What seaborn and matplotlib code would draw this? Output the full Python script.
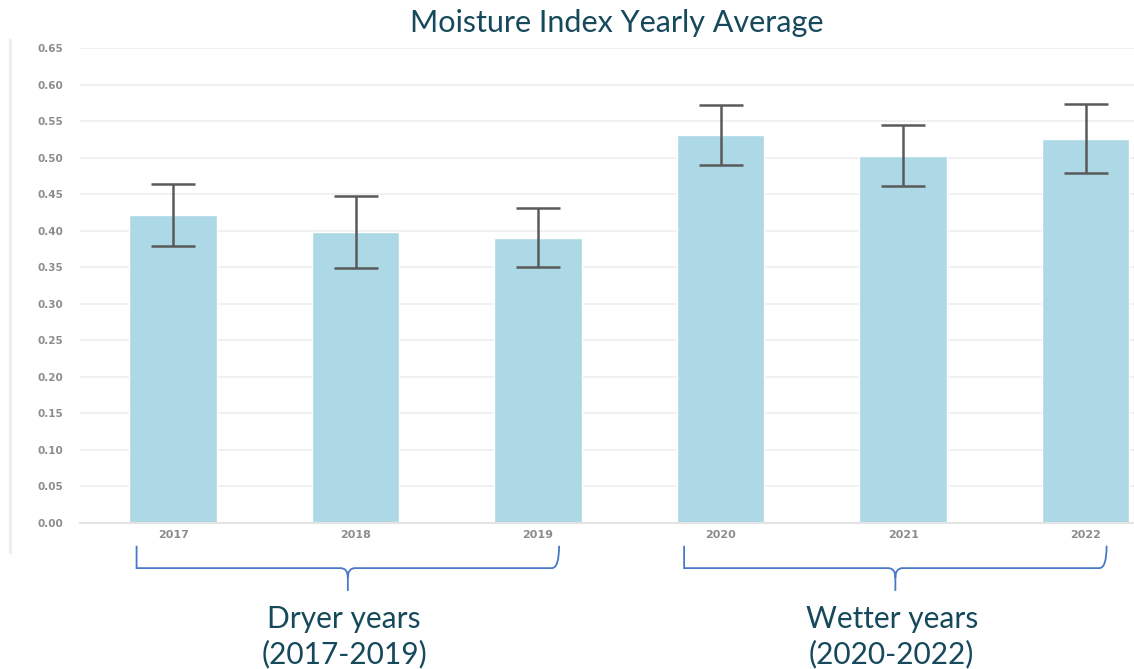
import matplotlib.pyplot as plt
import seaborn as sns
import pandas as pd
from matplotlib.path import Path
from matplotlib.patches import PathPatch
from matplotlib.lines import Line2D

# Yearly averages of the moisture index
years = ["2017", "2018", "2019", "2020", "2021", "2022"]
mean_values = [0.421, 0.398, 0.390, 0.531, 0.502, 0.525]
err_low = [0.379, 0.349, 0.350, 0.490, 0.461, 0.479]
err_high = [0.464, 0.447, 0.431, 0.572, 0.545, 0.573]

groups = ["Dryer years\n(2017-2019)", "Wetter years\n(2020-2022)"]
group_span = [(0, 2), (3, 5)]

df = pd.DataFrame({"year": years, "value": mean_values})

sns.set_style("white")
plt.rcParams["font.family"] = ["Lato", "DejaVu Sans"]

fig = plt.figure(figsize=(11.34, 6.69), dpi=100)
ax = fig.add_axes([80 / 1134, 1 - 523 / 669, 1 - 80 / 1134, 475 / 669])

sns.barplot(data=df, x="year", y="value", color="#add8e6", width=0.48,
            errorbar=None, saturation=1, ax=ax, zorder=2)

# asymmetric error bars
lower = [m - lo for m, lo in zip(mean_values, err_low)]
upper = [hi - m for m, hi in zip(mean_values, err_high)]
ax.errorbar(range(len(years)), mean_values, yerr=[lower, upper], fmt="none",
            ecolor="#5a5a5a", elinewidth=1.8, capsize=16, capthick=1.8, zorder=3)

ax.set_ylim(0, 0.65)
ax.set_xlim(-0.51, 5.265)
ax.set_yticks([i * 0.05 for i in range(14)])
ax.set_yticklabels([f"{i * 0.05:.2f}" for i in range(14)])
ax.set_xlabel("")
ax.set_ylabel("")
ax.grid(axis="y", color="#efefef", linewidth=1.2, zorder=0)
ax.set_axisbelow(True)
for s in ["top", "right", "left"]:
    ax.spines[s].set_visible(False)
ax.spines["bottom"].set_color("#e3e3e3")
ax.spines["bottom"].set_linewidth(1.5)
ax.tick_params(axis="y", length=0, pad=12, labelsize=7.5, labelcolor="#8c8c8c")
ax.tick_params(axis="x", length=0, pad=5, labelsize=8, labelcolor="#8c8c8c")
for lab in ax.get_yticklabels() + ax.get_xticklabels():
    lab.set_fontweight("bold")
    lab.set_family("DejaVu Sans")

# faint frame line on the left
fig.add_artist(Line2D([10 / 1134, 10 / 1134], [1 - 552 / 669, 1 - 40 / 669],
                      color="#eeeeee", linewidth=2.5))

fig.text(617 / 1134, 1 - 23 / 669, "Moisture Index Yearly Average",
         ha="center", va="center", fontsize=22, color="#17495c")

# curly braces under the year groups
trans = ax.get_xaxis_transform()
y_top, y_mid, y_tip = -0.048, -0.095, -0.143
r = 0.04
for (a, b), label in zip(group_span, groups):
    x0, x1 = a - 0.2, b + 0.115
    xm = (x0 + x1) / 2
    codes = [Path.MOVETO, Path.LINETO, Path.CURVE3, Path.CURVE3,
             Path.LINETO, Path.CURVE3, Path.CURVE3, Path.LINETO,
             Path.MOVETO, Path.CURVE3, Path.CURVE3, Path.LINETO,
             Path.CURVE3, Path.CURVE3]
    verts = [(x0, y_top), (x0, y_mid - 0.0), (x0, y_mid), (x0 + r, y_mid),
             (xm - r, y_mid), (xm, y_mid), (xm, y_mid - 0.02), (xm, y_tip),
             (xm, y_mid - 0.02), (xm, y_mid), (xm + r, y_mid),
             (x1 - r, y_mid), (x1, y_mid), (x1, y_top)]
    patch = PathPatch(Path(verts, codes), transform=trans, fill=False,
                      edgecolor="#4a78c8", linewidth=1.3, clip_on=False)
    ax.add_patch(patch)
    ax.text(xm - 0.02, -0.24, label, transform=trans, ha="center", va="center",
            fontsize=21.5, color="#17495c", linespacing=1.3, clip_on=False)

fig.savefig("out.png", dpi=100)
